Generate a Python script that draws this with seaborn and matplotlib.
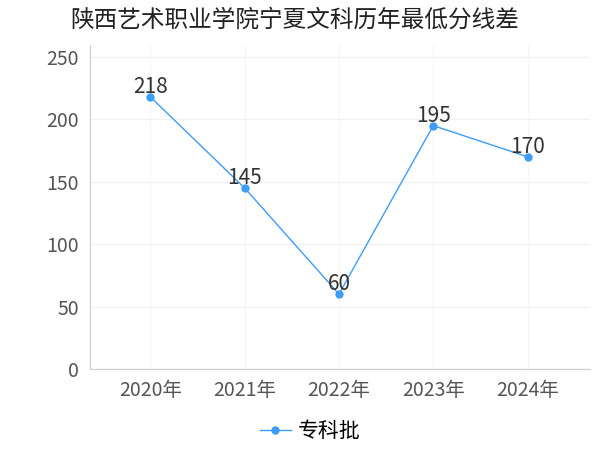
import matplotlib
matplotlib.use("Agg")
import matplotlib.pyplot as plt
import seaborn as sns
import pandas as pd

years = ["2020年", "2021年", "2022年", "2023年", "2024年"]
scores = [218, 145, 60, 195, 170]
series = "专科批"
title = "陕西艺术职业学院宁夏文科历年最低分线差"

plt.rcParams["font.family"] = "Noto Sans CJK SC"
df = pd.DataFrame({"year": years, "score": scores, "s": series})
fig = plt.figure(figsize=(6, 4.5), dpi=100)
ax = fig.add_axes([0.15, 0.18, 0.833, 0.72])
color = "#3d9df5"
sns.lineplot(data=df, x="year", y="score", hue="s", palette=[color], marker="o",
             markersize=6, markeredgewidth=0, linewidth=1, ax=ax, sort=False)
for i, v in enumerate(scores):
    ax.text(i, v - 1, str(v), ha="center", va="bottom", fontsize=15, color="#333333")
ax.set_xlim(-0.64, 4.66)
ax.set_ylim(0, 259.6)
ax.set_yticks([0, 50, 100, 150, 200, 250])
ax.grid(axis="y", color="#f2f2f2", linewidth=1)
ax.grid(axis="x", color="#f7f7f7", linewidth=1)
ax.set_axisbelow(True)
for s in ["top", "right"]:
    ax.spines[s].set_visible(False)
ax.spines["left"].set_color("#cccccc")
ax.spines["bottom"].set_color("#cccccc")
ax.tick_params(colors="#555555", labelsize=14, length=0, pad=8)
ax.set_xlabel("")
ax.set_ylabel("")
fig.text(0.117, 0.955, title, fontsize=17, color="#222222", ha="left", va="center")
ax.legend(loc="upper center", bbox_to_anchor=(0.44, -0.1), frameon=False, fontsize=15,
          handlelength=1.5, handletextpad=0.3)
fig.savefig("out.png", dpi=100)
